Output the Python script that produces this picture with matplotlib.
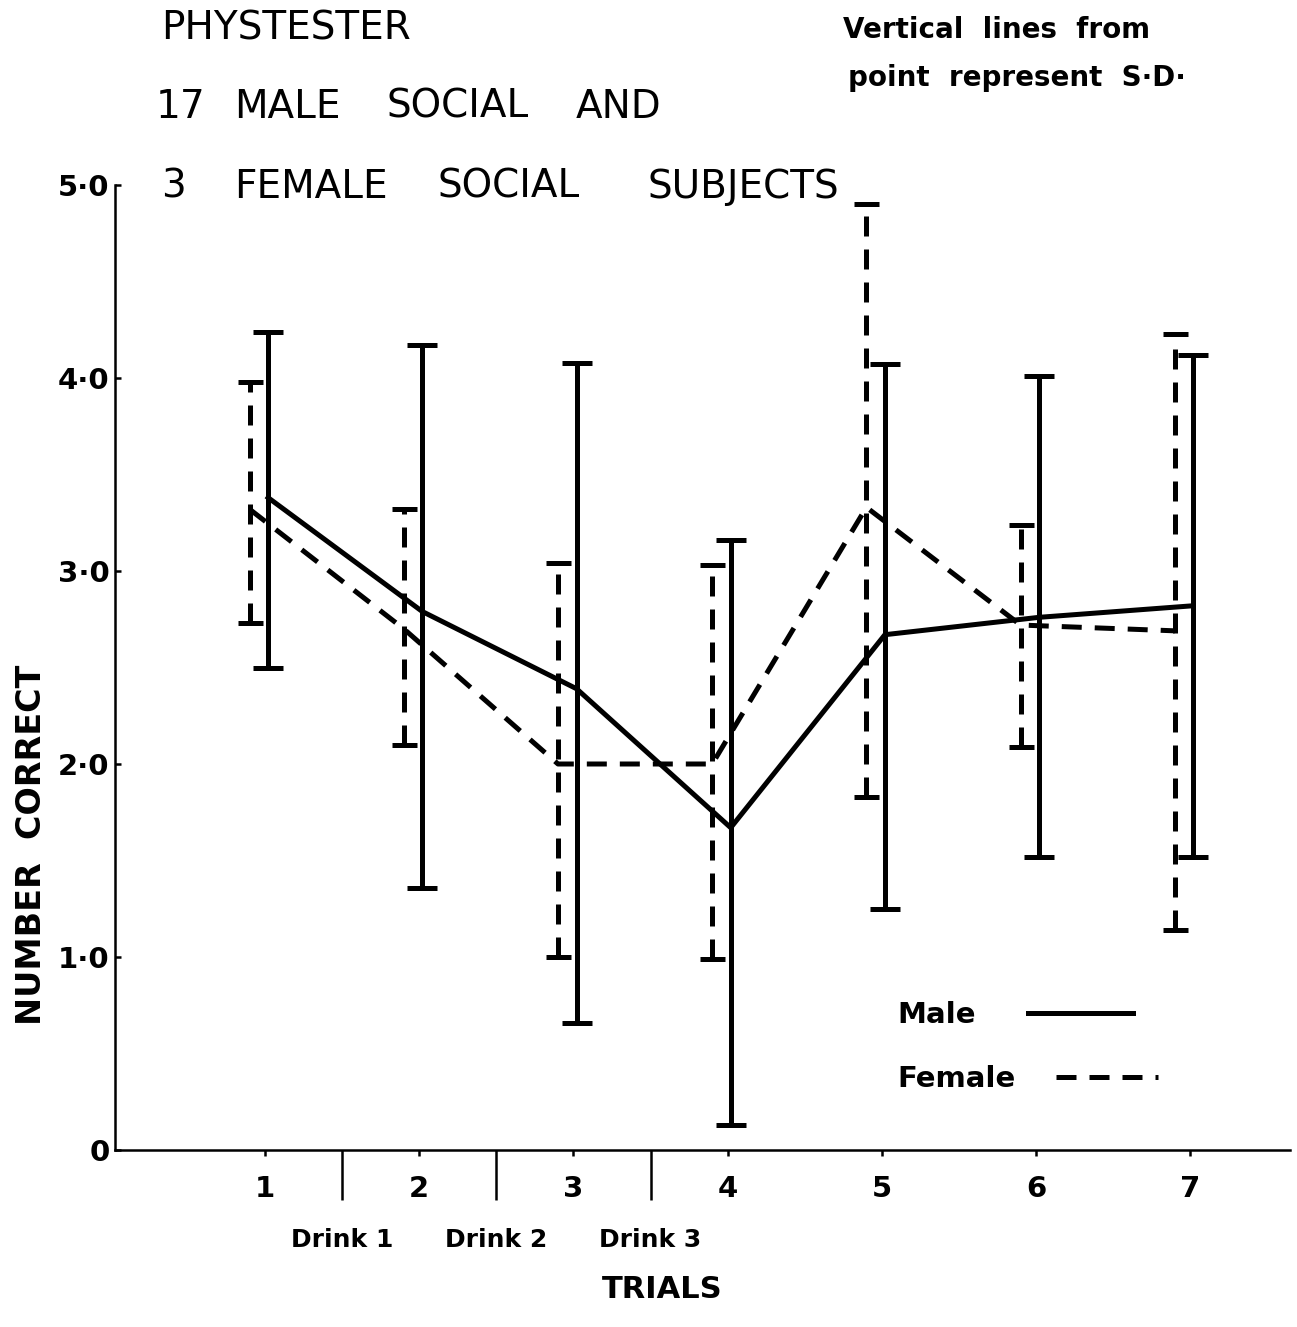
import matplotlib
matplotlib.use("Agg")
import matplotlib.pyplot as plt
import numpy as np

trials = [1, 2, 3, 4, 5, 6, 7]
trial_labels = ["1", "2", "3", "4", "5", "6", "7"]
drink_positions = [1.5, 2.5, 3.5]
drink_labels = ["Drink 1", "Drink 2", "Drink 3"]

# means and S.D. bar ends
male_mean = [3.38, 2.79, 2.39, 1.67, 2.67, 2.76, 2.82]
male_low = [2.50, 1.36, 0.66, 0.13, 1.25, 1.52, 1.52]
male_high = [4.24, 4.17, 4.08, 3.16, 4.07, 4.01, 4.12]

female_mean = [3.32, 2.70, 2.00, 2.00, 3.33, 2.72, 2.69]
female_low = [2.73, 2.10, 1.00, 0.99, 1.83, 2.09, 1.14]
female_high = [3.98, 3.32, 3.04, 3.03, 4.90, 3.24, 4.23]

y_ticks = [0, 1, 2, 3, 4, 5]
y_labels = ["0", "1\u00b70", "2\u00b70", "3\u00b70", "4\u00b70", "5\u00b70"]

plt.rcParams["font.family"] = "DejaVu Sans"
plt.rcParams["font.weight"] = "bold"

W, H = 1297, 1327
fig = plt.figure(figsize=(W / 100, H / 100), dpi=100)
ax = fig.add_axes([115 / W, 1 - 1150 / H, 1175 / W, 965 / H])

x_m = np.array(trials) + 0.02
x_f = np.array(trials) - 0.1
dash = (0, (4, 2.6))
lw = 3.6

male_err = [np.array(male_mean) - np.array(male_low), np.array(male_high) - np.array(male_mean)]
female_err = [np.array(female_mean) - np.array(female_low), np.array(female_high) - np.array(female_mean)]

ax.errorbar(x_m, male_mean, yerr=male_err, fmt="none", ecolor="black",
            elinewidth=lw, capsize=11, capthick=lw)
eb = ax.errorbar(x_f, female_mean, yerr=female_err, fmt="none", ecolor="black",
                 elinewidth=lw, capsize=9, capthick=lw)
eb[2][0].set_linestyle(dash)

male_line, = ax.plot(x_m, male_mean, color="black", lw=lw, solid_joinstyle="round", label="Male")
female_line, = ax.plot(x_f, female_mean, color="black", lw=lw, linestyle=dash, label="Female")

ax.set_xlim(0.027, 7.647)
ax.set_ylim(0, 5.0)
ax.spines["top"].set_visible(False)
ax.spines["right"].set_visible(False)
ax.spines["left"].set_linewidth(1.8)
ax.spines["bottom"].set_linewidth(1.8)

ax.set_xticks(trials)
ax.set_xticklabels(trial_labels)
ax.set_xticks(drink_positions, minor=True)
ax.set_xticklabels(drink_labels, minor=True)
ax.tick_params(axis="x", which="major", direction="out", length=4, width=1.8,
               pad=14, labelsize=21)
ax.tick_params(axis="x", which="minor", direction="out", length=36, width=1.8,
               pad=20, labelsize=18)

ax.set_yticks(y_ticks)
ax.set_yticklabels(y_labels)
ax.tick_params(axis="y", direction="in", length=4, width=1.8, pad=4, labelsize=21)

ax.set_ylabel("NUMBER  CORRECT", fontsize=24, fontweight="bold")
ax.yaxis.set_label_coords(-0.057, 0.316)
fig.text(662 / W, 1 - 1290 / H, "TRIALS", fontsize=22, ha="center", va="center")

# title words centred where the original lettering sits
title_words = [
    ("PHYSTESTER", 286, 28),
    ("17", 181, 107), ("MALE", 287, 107), ("SOCIAL", 458, 107), ("AND", 619, 107),
    ("3", 173, 187), ("FEMALE", 311, 187), ("SOCIAL", 509, 187), ("SUBJECTS", 743, 187),
]
for word, xx, yy in title_words:
    fig.text(xx / W, 1 - yy / H, word, fontsize=28, fontweight="normal",
             ha="center", va="center")

fig.text(843 / W, 1 - 30 / H, "Vertical  lines  from", fontsize=20,
         ha="left", va="center")
fig.text(848 / W, 1 - 78 / H, "point  represent  S\u00b7D\u00b7", fontsize=20,
         ha="left", va="center")

leg_male = ax.legend(handles=[male_line], loc="upper left",
                     bbox_to_anchor=(897 / W, 1 - 1001 / H),
                     bbox_transform=fig.transFigure, frameon=False, markerfirst=False,
                     fontsize=21, handlelength=3.6, handletextpad=1.8,
                     borderpad=0, borderaxespad=0)
ax.add_artist(leg_male)
ax.legend(handles=[female_line], loc="upper left",
          bbox_to_anchor=(897 / W, 1 - 1065 / H),
          bbox_transform=fig.transFigure, frameon=False, markerfirst=False,
          fontsize=21, handlelength=3.5, handletextpad=1.4,
          borderpad=0, borderaxespad=0)

fig.savefig("out.png", dpi=100)
